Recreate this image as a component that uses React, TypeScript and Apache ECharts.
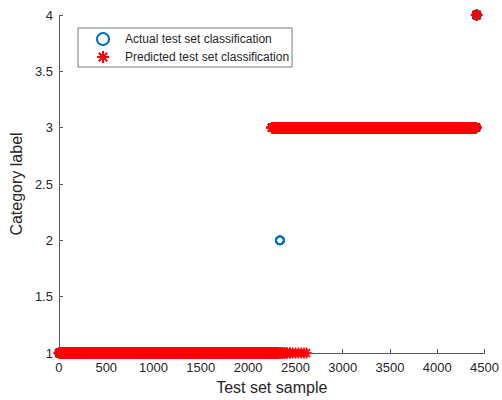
import React, { useEffect, useRef } from "react";
import * as echarts from "echarts";

// Runs of consecutive test samples: [first sample, last sample, category]
const actualRuns: [number, number, number][] = [
  [1, 2334, 1],
  [2335, 2338, 2],
  [2339, 4412, 3],
  [4413, 4420, 4],
];

const predictedRuns: [number, number, number][] = [
  [1, 2248, 1], [2249, 2256, 3], [2257, 2262, 1], [2263, 2272, 3], [2273, 2278, 1],
  [2279, 2290, 3], [2291, 2296, 1], [2297, 2310, 3], [2311, 2318, 1], [2319, 2334, 3],
  [2335, 2338, 3], [2339, 2344, 1], [2345, 2360, 3], [2361, 2364, 1], [2365, 2385, 3],
  [2386, 2388, 1], [2389, 2410, 3], [2411, 2412, 1], [2413, 2440, 3], [2441, 2442, 1],
  [2443, 2470, 3], [2471, 2471, 1], [2472, 2500, 3], [2501, 2501, 1], [2502, 2530, 3],
  [2531, 2531, 1], [2532, 2560, 3], [2561, 2561, 1], [2562, 2590, 3], [2591, 2591, 1],
  [2592, 2615, 3], [2616, 2616, 1], [2617, 4412, 3], [4413, 4420, 4],
];

const xTicks = [0, 500, 1000, 1500, 2000, 2500, 3000, 3500, 4000, 4500];
const yTicks = [1, 1.5, 2, 2.5, 3, 3.5, 4];
const seriesNames = ["Actual test set classification", "Predicted test set classification"];

function expand(runs: [number, number, number][]) {
  const pts: [number, number][] = [];
  for (const [s, e, c] of runs) {
    for (let i = s; i <= e; i++) pts.push([i, c]);
  }
  return pts;
}

const STAR = "path://M0 -5 L0 5 M-5 0 L5 0 M-3.5 -3.5 L3.5 3.5 M-3.5 3.5 L3.5 -3.5";
const FONT = "Liberation Sans";
const TEXT = "#262626";
const AXIS = "#5a5a5a";

export default function App() {
  const ref = useRef<HTMLDivElement>(null);
  useEffect(() => {
    if (!ref.current) return;
    const chart = echarts.init(ref.current, undefined, { renderer: "svg" });
    chart.setOption({
      animation: false,
      backgroundColor: "#ffffff",
      textStyle: { fontFamily: FONT },
      grid: { left: 55, right: 15, top: 15, bottom: 43, containLabel: false },
      legend: {
        orient: "vertical",
        left: 78,
        top: 28,
        padding: [4, 3, 3, 18],
        itemWidth: 34,
        itemHeight: 12,
        itemGap: 4,
        borderColor: "#7a7a7a",
        borderWidth: 1,
        backgroundColor: "#ffffff",
        textStyle: { fontFamily: FONT, fontSize: 12, color: TEXT },
        data: seriesNames,
      },
      xAxis: {
        type: "value",
        min: xTicks[0],
        max: xTicks[xTicks.length - 1],
        interval: 500,
        name: "Test set sample",
        nameLocation: "middle",
        nameGap: 26,
        nameTextStyle: { fontFamily: FONT, fontSize: 16, color: TEXT },
        axisLine: { show: true, onZero: false, lineStyle: { color: AXIS, width: 1 } },
        axisTick: { show: true, inside: true, length: 4, lineStyle: { color: AXIS } },
        axisLabel: { fontFamily: FONT, fontSize: 13, color: TEXT, margin: 8, formatter: (v: number) => String(v) },
        splitLine: { show: false },
      },
      yAxis: {
        type: "value",
        min: yTicks[0],
        max: yTicks[yTicks.length - 1],
        interval: 0.5,
        name: "Category label",
        nameLocation: "middle",
        nameGap: 30,
        nameRotate: 90,
        nameTextStyle: { fontFamily: FONT, fontSize: 16, color: TEXT },
        axisLine: { show: true, onZero: false, lineStyle: { color: AXIS, width: 1 } },
        axisTick: { show: true, inside: true, length: 4, lineStyle: { color: AXIS } },
        axisLabel: { fontFamily: FONT, fontSize: 13, color: TEXT, margin: 6, formatter: (v: number) => String(v) },
        splitLine: { show: false },
      },
      series: [
        {
          name: seriesNames[0],
          type: "scatter",
          symbol: "circle",
          symbolSize: 8,
          itemStyle: { color: "rgba(255,255,255,0)", borderColor: "#0072BD", borderWidth: 1.8, opacity: 1 },
          data: expand(actualRuns),
          z: 2,
        },
        {
          name: seriesNames[1],
          type: "scatter",
          symbol: STAR,
          symbolSize: 11,
          itemStyle: { color: "#ff0000", borderColor: "#ff0000", borderWidth: 1.6, opacity: 1 },
          data: expand(predictedRuns),
          z: 3,
        },
      ],
    });
    return () => chart.dispose();
  }, []);
  return <div ref={ref} style={{ position: "fixed", left: 0, top: 0, width: 502, height: 400 }} />;
}
